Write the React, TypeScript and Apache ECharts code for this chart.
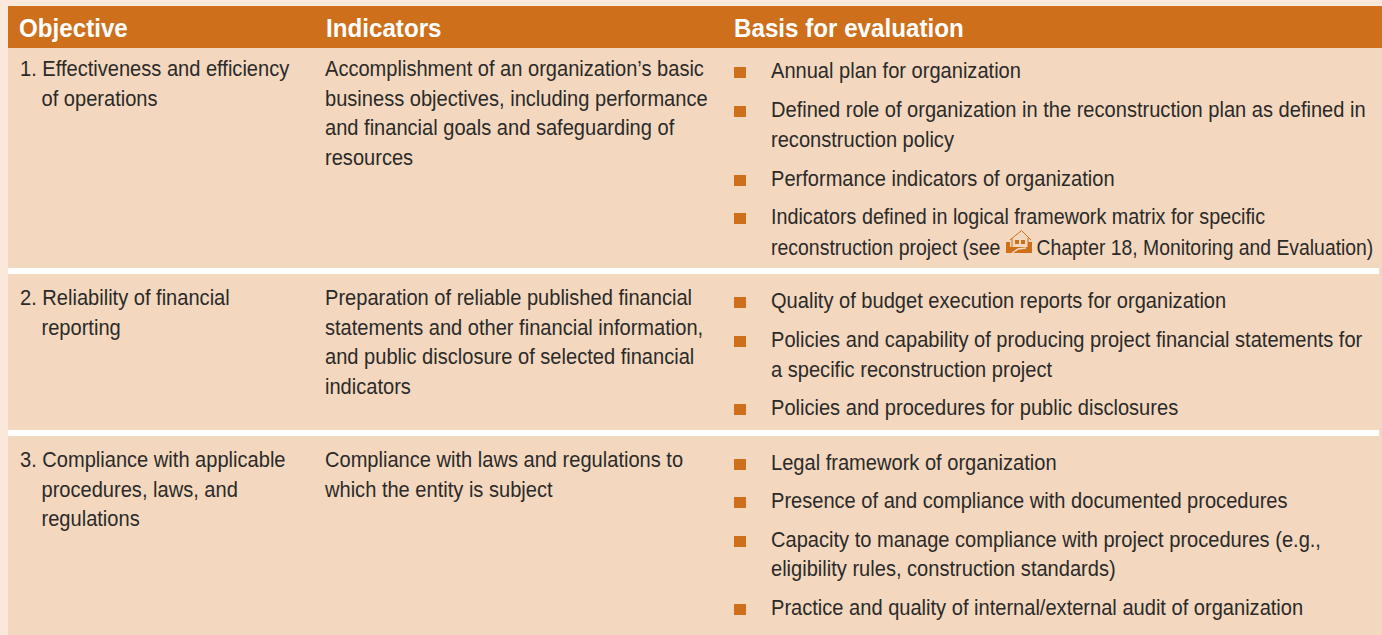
import React, { useEffect, useRef } from "react";
import * as echarts from "echarts";

const headers = ["Objective", "Indicators", "Basis for evaluation"];
const objectives = [
  ["1. Effectiveness and efficiency", "of operations"],
  ["2. Reliability of financial", "reporting"],
  ["3. Compliance with applicable", "procedures, laws, and", "regulations"],
];
const indicators = [
  ["Accomplishment of an organization’s basic", "business objectives, including performance", "and financial goals and safeguarding of", "resources"],
  ["Preparation of reliable published financial", "statements and other financial information,", "and public disclosure of selected financial", "indicators"],
  ["Compliance with laws and regulations to", "which the entity is subject"],
];
const basis = [
  [
    ["Annual plan for organization"],
    ["Defined role of organization in the reconstruction plan as defined in", "reconstruction policy"],
    ["Performance indicators of organization"],
    ["Indicators defined in logical framework matrix for specific", "reconstruction project (see"],
  ],
  [
    ["Quality of budget execution reports for organization"],
    ["Policies and capability of producing project financial statements for", "a specific reconstruction project"],
    ["Policies and procedures for public disclosures"],
  ],
  [
    ["Legal framework of organization"],
    ["Presence of and compliance with documented procedures"],
    ["Capacity to manage compliance with project procedures (e.g.,", "eligibility rules, construction standards)"],
    ["Practice and quality of internal/external audit of organization"],
  ],
];
const chapterRef = "Chapter 18, Monitoring and Evaluation)";

const lineH = 29.5;
const FONT = "'Liberation Sans'";
const SIZE = 22;
const SQUEEZE = 0.913;
const HEAD_SQUEEZE = 0.93;
const ORANGE = "#CE6F1B";
const INK = "#2b2a29";
const PEACH = "#F3D8BF";

const houseBase = "M0 12 L4 12 L4 17 L22 17 L22 12 L26 12 L26 23 L0 23 Z M9 10 L13 10 L13 14 L9 14 Z M15 10 L19 10 L19 14 L15 14 Z";
echarts.graphic.registerShape("houseBase", echarts.graphic.extendPath(houseBase, {}) as any);

export default function App() {
  const ref = useRef<HTMLDivElement>(null);
  useEffect(() => {
    document.body.style.margin = "0";
    const chart = echarts.init(ref.current!, undefined, { renderer: "svg" });
    const els: any[] = [];
    const text = (x: number, y: number, t: string, squeeze = SQUEEZE, bold = false, color = INK, size = SIZE) =>
      els.push({
        type: "text", x, y, scaleX: squeeze,
        style: { text: t, fill: color, font: `${bold ? "bold " : ""}${size}px ${FONT}`, textVerticalAlign: "middle", textAlign: "left" },
      });
    els.push({ type: "rect", shape: { x: 0, y: 0, width: 1382, height: 635 }, style: { fill: "#FAE9DB" } });
    els.push({ type: "rect", shape: { x: 8, y: 6, width: 1374, height: 629 }, style: { fill: PEACH } });
    els.push({ type: "rect", shape: { x: 8, y: 6, width: 1374, height: 42 }, style: { fill: ORANGE } });
    els.push({ type: "rect", shape: { x: 8, y: 268, width: 1371, height: 6 }, style: { fill: "#FFFFFF" } });
    els.push({ type: "rect", shape: { x: 8, y: 430, width: 1371, height: 6 }, style: { fill: "#FFFFFF" } });
    [19, 326, 734].forEach((x, i) => text(x, 28, headers[i], HEAD_SQUEEZE, true, "#FFFFFF", 26));
    const tops = [68.5, 297.5, 459.5];
    objectives.forEach((rows, r) =>
      rows.forEach((l, i) => text(i === 0 ? 20 : 41.5, tops[r] + i * lineH, l))
    );
    indicators.forEach((rows, r) =>
      rows.forEach((l, i) => text(325, tops[r] + i * lineH, l))
    );
    const bCentres = [[70, 109, 178, 216], [300, 339, 407], [462, 500, 539, 607]];
    const bGaps = [[0, 30, 0, 31], [0, 30, 0], [0, 0, 29, 0]];
    basis.forEach((items, r) =>
      items.forEach((lines, k) => {
        els.push({ type: "rect", shape: { x: 734, y: bCentres[r][k] - 3, width: 12, height: 11 }, style: { fill: ORANGE } });
        lines.forEach((l, i) => {
          const s = r === 0 && k === 3 && i === 0 ? 0.897 : r === 0 && k === 3 ? 0.885 : SQUEEZE;
          text(771, bCentres[r][k] + i * bGaps[r][k], l, s);
        });
      })
    );
    els.push({ type: "houseBase", x: 1006, y: 230, style: { fill: ORANGE } });
    els.push({ type: "polyline", shape: { points: [[1010, 240], [1021.5, 230.5], [1031, 240]] }, style: { fill: "none", stroke: ORANGE, lineWidth: 1 } });
    els.push({ type: "polyline", shape: { points: [[1012, 238], [1012, 247]] }, style: { fill: "none", stroke: ORANGE, lineWidth: 1 } });
    els.push({ type: "polyline", shape: { points: [[1028, 238], [1028, 247]] }, style: { fill: "none", stroke: ORANGE, lineWidth: 1 } });
    els.push({ type: "polyline", shape: { points: [[1012, 253], [1018, 249], [1026, 248]] }, style: { fill: "none", stroke: PEACH, lineWidth: 1.5 } });
    text(1036.5, 247, chapterRef, 0.88);
    chart.setOption({ animation: false, graphic: { elements: els } });
    return () => chart.dispose();
  }, []);
  return <div ref={ref} style={{ width: 1382, height: 635 }} />;
}
